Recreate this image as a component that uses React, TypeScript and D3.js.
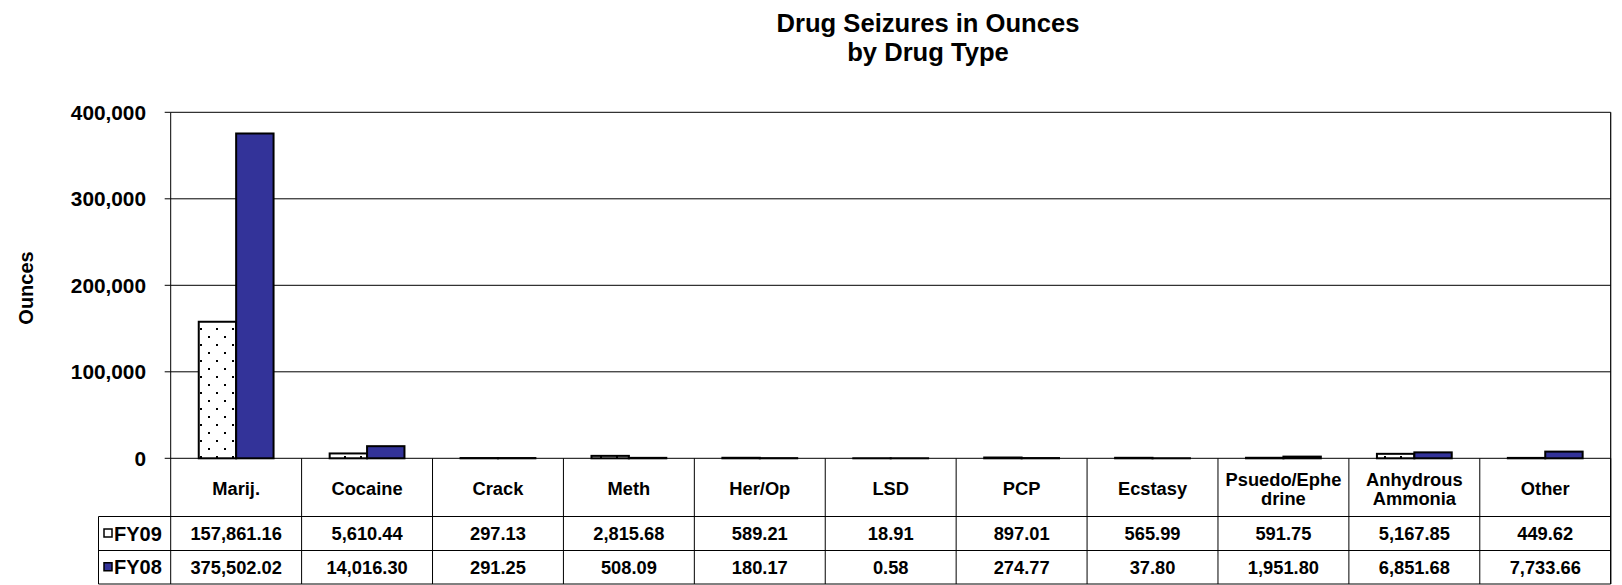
import React from "react";
import * as d3 from "d3";

const categories: string[][] = [
  ["Marij."],
  ["Cocaine"],
  ["Crack"],
  ["Meth"],
  ["Her/Op"],
  ["LSD"],
  ["PCP"],
  ["Ecstasy"],
  ["Psuedo/Ephe", "drine"],
  ["Anhydrous", "Ammonia"],
  ["Other"],
];
const seriesNames = ["FY09", "FY08"];
const fy09 = [157861.16, 5610.44, 297.13, 2815.68, 589.21, 18.91, 897.01, 565.99, 591.75, 5167.85, 449.62];
const fy08 = [375502.02, 14016.3, 291.25, 508.09, 180.17, 0.58, 274.77, 37.8, 1951.8, 6851.68, 7733.66];
const yTicks = [0, 100000, 200000, 300000, 400000];
const titleLines = ["Drug Seizures in Ounces", "by Drug Type"];
const yTitle = "Ounces";

const W = 1622;
const H = 585;
const FONT = "'Liberation Sans', Arial, Helvetica, sans-serif";
const NAVY = "#333399";

export default function App() {
  const plotL = 170.7;
  const plotR = 1610.7;
  const plotT = 112.3;
  const plotB = 458.3;
  const catRowB = 516.5;
  const row1B = 550.5;
  const row2B = 584;
  const legendL = 98.5;

  const keys = categories.map((c) => c.join(" "));
  const x0 = d3.scaleBand<string>().domain(keys).range([plotL, plotR]).paddingInner(0).paddingOuter(0);
  const x1 = d3
    .scaleBand<string>()
    .domain(seriesNames)
    .range([0, x0.bandwidth()])
    .paddingInner(0)
    .paddingOuter(0.75);
  const y = d3.scaleLinear().domain([0, 400000]).range([plotB, plotT]);
  const fmtTick = d3.format(",");
  const fmtVal = d3.format(",.2f");
  const series = [fy09, fy08];
  const fills = ["url(#dots)", NAVY];
  const keyFills = ["#ffffff", NAVY];
  const rowCenters = [(catRowB + row1B) / 2, (row1B + row2B) / 2];

  return (
    <svg
      width={W}
      height={H}
      style={{ position: "absolute", left: 0, top: 0, display: "block", background: "#fff" }}
      fontFamily={FONT}
      fontWeight="bold"
    >
      <defs>
        <pattern id="dots" width={16} height={16} patternUnits="userSpaceOnUse">
          <rect width={16} height={16} fill="#fff" />
          <rect x={0} y={0} width={2} height={2} fill="#000" />
          <rect x={8} y={8} width={2} height={2} fill="#000" />
        </pattern>
      </defs>
      <rect width={W} height={H} fill="#fff" />

      {/* Title */}
      {titleLines.map((t, i) => (
        <text key={t} x={928} y={32.2 + i * 28.6} textAnchor="middle" fontSize={25.6} fill="#000">
          {t}
        </text>
      ))}

      {/* Y axis title */}
      <text
        transform={`translate(33, ${288}) rotate(-90)`}
        textAnchor="middle"
        fontSize={20}
        fill="#000"
      >
        {yTitle}
      </text>

      {/* Gridlines & ticks */}
      {yTicks.map((t) => (
        <g key={t}>
          <line x1={plotL} x2={plotR} y1={y(t)} y2={y(t)} stroke="#000" strokeWidth={1} />
          <line x1={plotL - 6} x2={plotL} y1={y(t)} y2={y(t)} stroke="#000" strokeWidth={1} />
          <text x={146} y={y(t) + 7.3} textAnchor="end" fontSize={20.8} fill="#000">
            {fmtTick(t)}
          </text>
        </g>
      ))}

      {/* Bars */}
      {keys.map((k, i) => (
        <g key={k}>
          {series.map((s, j) => {
            const v = s[i];
            const yy = y(v);
            return (
              <rect
                key={j}
                x={(x0(k) as number) + (x1(seriesNames[j]) as number)}
                y={yy}
                width={x1.bandwidth()}
                height={Math.max(0, plotB - yy)}
                fill={fills[j]}
                stroke="#000"
                strokeWidth={2}
              />
            );
          })}
        </g>
      ))}

      {/* Plot border: left axis, right side */}
      <line x1={plotL} x2={plotL} y1={plotT} y2={row2B} stroke="#000" strokeWidth={1} />
      <line x1={plotR} x2={plotR} y1={plotT} y2={row2B} stroke="#000" strokeWidth={1.2} />

      {/* Data table */}
      {keys.map((k) => (
        <line
          key={"v" + k}
          x1={(x0(k) as number) + x0.bandwidth()}
          x2={(x0(k) as number) + x0.bandwidth()}
          y1={plotB}
          y2={row2B}
          stroke="#000"
          strokeWidth={1}
        />
      ))}
      <line x1={legendL} x2={legendL} y1={catRowB} y2={row2B} stroke="#000" strokeWidth={1} />
      {[catRowB, row1B, row2B].map((yy) => (
        <line key={yy} x1={legendL} x2={plotR} y1={yy} y2={yy} stroke="#000" strokeWidth={1} />
      ))}

      {/* Category labels */}
      {categories.map((lines, i) => {
        const cx = (x0(keys[i]) as number) + x0.bandwidth() / 2;
        const base = lines.length === 1 ? 494.5 : 485.5;
        return (
          <text key={keys[i]} textAnchor="middle" fontSize={18.3} fill="#000">
            {lines.map((l, li) => (
              <tspan key={li} x={cx} y={base + li * 19.5}>
                {l}
              </tspan>
            ))}
          </text>
        );
      })}

      {/* Values */}
      {series.map((s, j) =>
        s.map((v, i) => (
          <text
            key={j + "-" + i}
            x={(x0(keys[i]) as number) + x0.bandwidth() / 2}
            y={rowCenters[j] + 6.5}
            textAnchor="middle"
            fontSize={18.3}
            fill="#000"
          >
            {fmtVal(v)}
          </text>
        ))
      )}

      {/* Legend keys in table */}
      {seriesNames.map((n, j) => (
        <g key={n}>
          <rect
            x={104}
            y={rowCenters[j] - 4.5}
            width={8}
            height={8}
            fill={keyFills[j]}
            stroke="#000"
            strokeWidth={1.5}
          />
          <text x={114} y={rowCenters[j] + 7} fontSize={20} fill="#000">
            {n}
          </text>
        </g>
      ))}
    </svg>
  );
}
